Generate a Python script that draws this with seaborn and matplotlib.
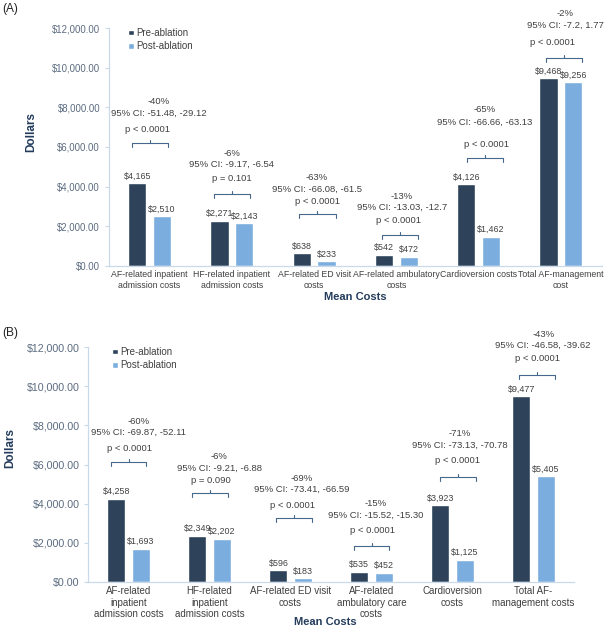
import matplotlib
matplotlib.use('Agg')
import matplotlib.pyplot as plt
from matplotlib.patches import Patch
from matplotlib.ticker import FuncFormatter
import numpy as np
import pandas as pd
import seaborn as sns

sns.set_style('white')
plt.rcParams['font.family'] = ['Liberation Sans', 'DejaVu Sans']

# ---- data (panel A) ----
cats_a = ["AF-related inpatient\nadmission costs", "HF-related inpatient\nadmission costs",
          "AF-related ED visit\ncosts", "AF-related ambulatory\ncosts",
          "Cardioversion costs", "Total AF-management\ncost"]
pre_a = [4165, 2271, 638, 542, 4126, 9468]
post_a = [2510, 2143, 233, 472, 1462, 9256]
pct_a = ["-40%", "-6%", "-63%", "-13%", "-65%", "-2%"]
ci_a = ["95% CI: -51.48, -29.12", "95% CI: -9.17, -6.54", "95% CI: -66.08, -61.5",
        "95% CI: -13.03, -12.7", "95% CI: -66.66, -63.13", "95% CI: -7.2, 1.77"]
p_a = ["p < 0.0001", "p = 0.101", "p < 0.0001", "p < 0.0001", "p < 0.0001", "p < 0.0001"]

# ---- data (panel B) ----
cats_b = ["AF-related\ninpatient\nadmission costs", "HF-related\ninpatient\nadmission costs",
          "AF-related ED visit\ncosts", "AF-related\nambulatory care\ncosts",
          "Cardioversion\ncosts", "Total AF-\nmanagement costs"]
pre_b = [4258, 2349, 596, 535, 3923, 9477]
post_b = [1693, 2202, 183, 452, 1125, 5405]
pct_b = ["-60%", "-6%", "-69%", "-15%", "-71%", "-43%"]
ci_b = ["95% CI: -69.87, -52.11", "95% CI: -9.21, -6.88", "95% CI: -73.41, -66.59",
        "95% CI: -15.52, -15.30", "95% CI: -73.13, -70.78", "95% CI: -46.58, -39.62"]
p_b = ["p < 0.0001", "p = 0.090", "p < 0.0001", "p < 0.0001", "p < 0.0001", "p < 0.0001"]

periods = ["Pre-ablation", "Post-ablation"]

# ---- annotation layout (y in dollars, x as offset from category centre) ----
lay_a = dict(pct_y=[8269, 5697, 4487, 3479, 7866, 12706],
             ci_y=[7714, 5143, 3882, 2975, 7260, 12151],
             p_y=[6907, 4387, 3277, 2269, 6101, 11244],
             brk_y=[6202, 3630, 2622, 1563, 5445, 10487],
             txt_dx=[0.11, 0.0, 0.03, 0.07, 0.07, 0.05],
             p_dx=[-0.03, 0.0, 0.04, 0.02, 0.09, -0.10],
             brk_dx=[0.0, 0.0, 0.04, 0.04, 0.08, 0.04])
lay_b = dict(pct_y=[8221, 6383, 5310, 3983, 7608, 12663],
             ci_y=[7659, 5821, 4749, 3421, 6995, 12101],
             p_y=[6842, 5208, 3881, 2655, 6229, 11437],
             brk_y=[6127, 4544, 3268, 1838, 5361, 10569],
             txt_dx=[0.12, 0.12, 0.14, 0.05, 0.09, 0.12],
             p_dx=[0.01, 0.02, 0.02, 0.01, 0.06, 0.05],
             brk_dx=[0.0, 0.01, 0.04, 0.0, 0.07, 0.04])

PRE_COL = '#2e4259'
POST_COL = '#7badde'
AXIS_COL = '#c9d9ea'
TXT_COL = '#404040'
TICK_COL = '#5b6b80'
NAVY = '#243c5c'
BRK_COL = '#46688c'


def draw_panel(ax, cats, pre, post, pct, ci, pv, lay, xfs, yfs, legend_x):
    df = pd.DataFrame({
        'cat': cats * 2,
        'period': [periods[0]] * len(cats) + [periods[1]] * len(cats),
        'cost': pre + post,
    })
    sns.barplot(data=df, x='cat', y='cost', hue='period', order=cats, hue_order=periods,
                palette=[PRE_COL, POST_COL], width=0.6, gap=0.26, saturation=1,
                legend=False, ax=ax)
    for cont in ax.containers:
        ax.bar_label(cont, fmt=lambda v: f'${v:,.0f}', padding=2, fontsize=6.4, color=TXT_COL)

    ax.set_xlim(-0.5, len(cats) - 0.5)
    ax.set_ylim(0, 12000)
    ax.set_yticks(np.arange(0, 12001, 2000))
    ax.yaxis.set_major_formatter(FuncFormatter(lambda v, _: f'${v:,.2f}'))
    ax.tick_params(axis='y', labelsize=yfs, labelcolor=TICK_COL, color=AXIS_COL,
                   length=3, width=0.8, left=True, direction='out', pad=3)
    ax.tick_params(axis='x', labelsize=xfs, labelcolor=TXT_COL, length=0, pad=3)
    ax.set_xlabel('')
    ax.set_ylabel('')
    for s in ['top', 'right']:
        ax.spines[s].set_visible(False)
    for s in ['left', 'bottom']:
        ax.spines[s].set_color(AXIS_COL)
        ax.spines[s].set_linewidth(0.9)

    # annotations
    for i in range(len(cats)):
        tx = i + lay['txt_dx'][i]
        ax.text(tx, lay['pct_y'][i], pct[i], ha='center', va='center', fontsize=6.8, color=TXT_COL)
        ax.text(tx, lay['ci_y'][i], ci[i], ha='center', va='center', fontsize=6.8, color=TXT_COL)
        ax.text(i + lay['p_dx'][i], lay['p_y'][i], pv[i], ha='center', va='center',
                fontsize=6.8, color=TXT_COL)
        bx = i + lay['brk_dx'][i]
        by = lay['brk_y'][i]
        hw = 0.22
        ax.plot([bx - hw, bx - hw, bx + hw, bx + hw], [by - 200, by, by, by - 200],
                color=BRK_COL, lw=0.8, clip_on=False)
        ax.plot([bx, bx], [by, by + 150], color=BRK_COL, lw=0.8, clip_on=False)

    handles = [Patch(facecolor=PRE_COL, label=periods[0]),
               Patch(facecolor=POST_COL, label=periods[1])]
    ax.legend(handles=handles, loc='upper left', bbox_to_anchor=(legend_x, 1.0), frameon=False,
              fontsize=7, handlelength=0.55, handleheight=0.55, handletextpad=0.3,
              labelspacing=0.35, borderpad=0, borderaxespad=0, labelcolor=TXT_COL)


W, H = 605, 628
fig = plt.figure(figsize=(W / 100, H / 100), dpi=100)
ax_a = fig.add_axes([108.5 / W, 1 - 266 / H, (602 - 108.5) / W, 238 / H])
ax_b = fig.add_axes([88 / W, 1 - 582 / H, (574 - 88) / W, 235 / H])

draw_panel(ax_a, cats_a, pre_a, post_a, pct_a, ci_a, p_a, lay_a, 6.3, 6.9, 0.04)
draw_panel(ax_b, cats_b, pre_b, post_b, pct_b, ci_b, p_b, lay_b, 7.0, 7.7, 0.05)

fig.text(2 / W, 1 - 9 / H, '(A)', fontsize=8.6, color='#222222', ha='left', va='center')
fig.text(2 / W, 1 - 333 / H, '(B)', fontsize=8.6, color='#222222', ha='left', va='center')
fig.text(355 / W, 1 - 297 / H, 'Mean Costs', fontsize=8, fontweight='bold', color=NAVY,
         ha='center', va='center')
fig.text(325 / W, 1 - 622 / H, 'Mean Costs', fontsize=8, fontweight='bold', color=NAVY,
         ha='center', va='center')
fig.text(31 / W, 1 - 132 / H, 'Dollars', fontsize=8.5, fontweight='bold', color=NAVY,
         ha='center', va='center', rotation=90)
fig.text(10 / W, 1 - 448 / H, 'Dollars', fontsize=8.5, fontweight='bold', color=NAVY,
         ha='center', va='center', rotation=90)

fig.savefig('out.png', dpi=100)
